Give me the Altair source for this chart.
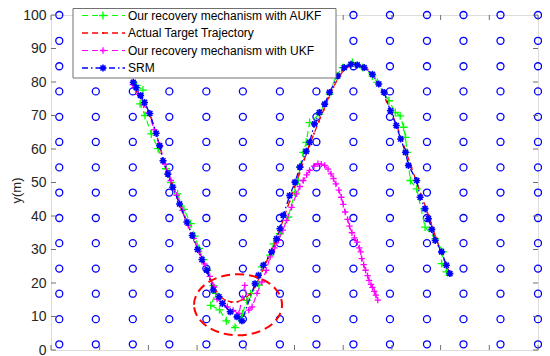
import altair as alt
import pandas as pd

# ---------------- data ----------------
TICKS = [0, 10, 20, 30, 40, 50, 60, 70, 80, 90, 100]
GRID = [1.7, 9.2, 16.8, 24.3, 31.9, 39.4, 47.0, 54.5, 62.1, 69.6, 77.2, 84.7, 92.3, 100.0]

SERIES = ["Our recovery mechanism with AUKF", "Actual Target Trajectory",
          "Our recovery mechanism with UKF", "SRM"]

AUKF_X = [17.6, 18.9, 18.3, 19.3, 20.6, 22.0, 23.6, 24.6, 26.0, 27.3, 28.7, 29.5, 30.4, 31.3, 32.1,
          33.3, 33.8, 32.8, 34.6, 36.0, 37.8, 39.3, 40.2, 41.0, 42.7, 43.3, 45.0, 45.7, 47.0, 48.7,
          50.1, 50.8, 51.1, 51.8, 52.4, 53.1, 55.1, 57.2, 58.5, 59.9, 61.9, 64.0, 66.0, 67.0, 69.4,
          70.7, 71.7, 72.4, 72.8, 73.1, 73.8, 75.1, 76.8, 78.9, 80.5, 80.2, 81.2]
AUKF_Y = [79.0, 77.6, 73.5, 70.0, 64.5, 60.1, 54.1, 50.0, 46.6, 42.0, 37.7, 34.0, 30.3, 27.0, 23.8,
          19.2, 16.9, 13.3, 12.0, 8.7, 6.7, 10.8, 14.8, 16.8, 19.4, 24.8, 28.3, 31.7, 34.7, 39.7,
          47.1, 50.6, 54.6, 59.0, 62.0, 67.9, 70.4, 76.4, 81.8, 84.3, 85.8, 84.3, 81.8, 79.9, 74.4,
          70.9, 69.9, 66.5, 63.5, 59.0, 50.6, 48.1, 36.7, 33.2, 29.3, 25.8, 23.3]

ACT_X = [16.7, 17.6, 18.6, 19.6, 20.5, 21.4, 22.2, 23.0, 23.8, 24.8, 25.9, 27.0, 28.0, 29.1, 30.2,
         31.2, 32.2, 33.3, 34.5, 35.7, 37.0, 38.3, 39.6, 40.8, 41.9, 43.0, 44.0, 45.0, 46.0, 47.0,
         48.0, 49.0, 50.0, 51.0, 52.0, 53.0, 54.0, 55.0, 56.0, 57.0, 58.0, 59.0, 60.0, 61.0, 62.0,
         63.0, 64.0, 65.0, 66.0, 67.0, 68.0, 69.0, 70.0, 71.0, 72.0, 73.0, 74.0, 75.0, 76.0, 77.0,
         78.0, 79.0, 80.0, 81.0, 81.7]
ACT_Y = [79.5, 77.2, 75.0, 72.5, 69.4, 65.5, 61.6, 57.0, 53.5, 49.8, 45.5, 41.3, 37.5, 33.8, 30.0,
         26.5, 23.0, 19.2, 16.3, 14.9, 14.3, 14.4, 15.2, 16.6, 18.9, 22.2, 25.5, 28.8, 32.0, 36.0,
         40.2, 44.4, 48.6, 52.7, 56.8, 60.8, 64.6, 68.2, 71.7, 75.3, 78.5, 81.2, 83.3, 84.6, 85.3,
         85.3, 84.8, 83.7, 82.0, 79.8, 77.0, 74.0, 70.6, 66.9, 63.0, 58.8, 54.5, 50.4, 46.4, 42.4,
         38.0, 33.6, 29.6, 25.8, 23.5]

UKF_X = [16.8, 17.9, 19.0, 20.0, 21.2, 22.4, 23.4, 24.6, 25.8, 27.0, 28.2, 29.3, 30.4, 31.5, 32.6,
         33.5, 34.1, 35.2, 36.2, 37.4, 38.6, 39.8, 40.6, 41.3, 42.3, 43.3, 44.2, 45.0, 45.9, 46.7,
         47.6, 48.4, 49.4, 50.4, 51.1, 51.8, 52.5, 53.1, 54.0, 54.8, 55.5, 56.2, 56.9, 57.5, 58.0,
         58.5, 59.1, 59.6, 60.0, 60.4, 60.9, 61.3, 61.8, 62.3, 62.9, 63.3, 63.6, 63.8, 64.2, 64.6,
         65.0, 65.3, 65.7, 66.0, 66.4, 66.7, 67.1]
UKF_Y = [79.2, 76.3, 73.2, 70.8, 65.8, 60.8, 55.5, 50.6, 46.2, 41.7, 37.2, 33.3, 29.5, 25.7, 22.0,
         18.8, 15.2, 13.9, 12.9, 11.8, 10.9, 19.3, 11.9, 12.9, 16.9, 20.3, 23.8, 27.8, 30.5, 32.7,
         35.8, 38.7, 42.6, 46.6, 48.8, 50.6, 52.3, 53.6, 54.9, 55.6, 55.5, 55.1, 54.0, 52.6, 51.2,
         49.6, 47.7, 45.6, 43.5, 41.2, 39.0, 37.0, 35.0, 33.5, 32.2, 30.5, 29.3, 27.3, 25.5, 23.8,
         22.2, 20.8, 19.6, 18.7, 17.5, 16.4, 14.9]

SRM_X = [16.9, 17.5, 18.4, 19.2, 20.3, 21.6, 22.3, 23.0, 24.0, 25.0, 26.4, 27.9, 29.0, 30.1, 31.0,
         32.0, 33.3, 34.5, 35.2, 36.8, 38.2, 39.2, 41.9, 42.6, 43.6, 45.3, 46.3, 47.0, 47.7, 49.0,
         50.1, 51.1, 52.4, 53.1, 54.1, 55.1, 56.2, 57.2, 58.9, 60.2, 61.6, 62.9, 64.3, 66.0, 67.3,
         68.4, 69.7, 70.9, 71.8, 72.8, 73.4, 75.1, 75.8, 76.8, 77.5, 78.2, 78.9, 80.2, 81.2, 81.9]
SRM_Y = [79.9, 78.3, 76.0, 73.9, 70.6, 64.7, 61.0, 56.5, 52.5, 48.6, 43.6, 38.2, 34.2, 30.0, 27.0,
         23.8, 17.9, 15.9, 13.9, 11.4, 9.9, 8.7, 19.8, 22.3, 25.3, 29.3, 33.2, 36.2, 40.2, 46.1,
         50.1, 54.6, 59.3, 62.0, 67.5, 70.9, 73.4, 76.9, 81.8, 84.3, 85.3, 85.1, 84.3, 82.3, 79.4,
         76.9, 71.4, 67.0, 63.0, 59.0, 55.1, 50.6, 45.6, 42.2, 39.2, 36.0, 32.7, 29.3, 25.3, 22.8]

ELLIPSE_X = [38.4]
ELLIPSE_Y = [13.5]

# ---------------- styling ----------------
W, H = 487, 335
FONT = "Liberation Sans"
AX = "#707070"
TXT = "#262626"
COLORS = ["#00ff00", "#ff0000", "#ff00ff", "#0000ff"]
PLUS = "M-1,0L1,0M0,-1L0,1"
STAR = "M-1,0L1,0M0,-1L0,1M-0.72,-0.72L0.72,0.72M-0.72,0.72L0.72,-0.72"
ELLIPSE_PATH = "M-1,0A1,0.693,0,1,1,1,0A1,0.693,0,1,1,-1,0Z"

STYLES = [
    dict(dash=[6, 4], shape=PLUS, size=64, msw=1.3, lw=1.2),
    dict(dash=[6, 4], shape="circle", size=5, msw=1.0, lw=1.3),
    dict(dash=[6, 4], shape=PLUS, size=40, msw=1.3, lw=1.2),
    dict(dash=[6, 3, 1.5, 3], shape=STAR, size=49, msw=1.6, lw=1.3),
]

xs = alt.Scale(domain=[0, 100], nice=False, zero=False)
ys = alt.Scale(domain=[0, 100], nice=False, zero=False)
XA = alt.Axis(values=TICKS, ticks=False, domain=False, grid=False, labels=False, title=None)
YA = alt.Axis(values=TICKS, ticks=False, domain=False, grid=False, labelPadding=5, labelFontSize=14,
              labelFont=FONT, labelColor=TXT, title="y(m)", titleFont=FONT, titleFontSize=13,
              titleFontWeight="normal", titleColor=TXT, titleAngle=270, titleX=-35, titleY=175,
              titleAlign="center", titleBaseline="middle")


def X(f):
    return alt.X(f, scale=xs, axis=XA)


def Y(f):
    return alt.Y(f, scale=ys, axis=YA)


grid_df = pd.DataFrame([(gx, gy) for gx in GRID for gy in GRID], columns=["x", "y"])
grid = alt.Chart(grid_df).mark_point(
    shape="circle", size=49, filled=False, color="#0000ff", strokeWidth=1.3, opacity=1
).encode(x=X("x:Q"), y=Y("y:Q"))

series_data = [(AUKF_X, AUKF_Y), (ACT_X, ACT_Y), (UKF_X, UKF_Y), (SRM_X, SRM_Y)]
layers = [grid]
for (sx, sy), col, st in zip(series_data, COLORS, STYLES):
    df = pd.DataFrame({"x": sx, "y": sy, "i": list(range(len(sx)))})
    base = alt.Chart(df).encode(x=X("x:Q"), y=Y("y:Q"), order=alt.Order("i:Q"))
    layers.append(base.mark_line(color=col, strokeDash=st["dash"], strokeWidth=st["lw"]))
    if st["shape"] == "circle":
        layers.append(base.mark_point(shape="circle", size=st["size"], filled=True, color=col, opacity=1))
    else:
        layers.append(base.mark_point(shape=st["shape"], size=st["size"], filled=False, color=col,
                                      strokeWidth=st["msw"], opacity=1))

ell_df = pd.DataFrame({"x": ELLIPSE_X, "y": ELLIPSE_Y})
layers.append(alt.Chart(ell_df).mark_point(
    shape=ELLIPSE_PATH, size=88 * 88, filled=False, color="#ff0000", strokeWidth=2,
    strokeDash=[9, 5], opacity=1
).encode(x=X("x:Q"), y=Y("y:Q")))

# inward tick marks on all four sides
tdf = pd.DataFrame({"x": TICKS, "y": TICKS})
TL = 5
layers += [
    alt.Chart(tdf).mark_rule(color=AX, strokeWidth=1).encode(
        y=Y("y:Q"), x=alt.value(0), x2=alt.value(TL)),
    alt.Chart(tdf).mark_rule(color=AX, strokeWidth=1).encode(
        y=Y("y:Q"), x=alt.value(W - TL), x2=alt.value(W)),
    alt.Chart(tdf).mark_rule(color=AX, strokeWidth=1).encode(
        x=X("x:Q"), y=alt.value(H - TL), y2=alt.value(H)),
    alt.Chart(tdf).mark_rule(color=AX, strokeWidth=1).encode(
        x=X("x:Q"), y=alt.value(0), y2=alt.value(TL)),
]

# legend box (drawn manually, MATLAB style)
one = pd.DataFrame({"a": [0]})
LX0, LX1, LY0, LY1 = 22, 285, -6.5, 63
layers.append(alt.Chart(one).mark_rect(fill="white", stroke=AX, strokeWidth=1).encode(
    x=alt.value(LX0), x2=alt.value(LX1), y=alt.value(LY0), y2=alt.value(LY1)))
for k, (name, col, st) in enumerate(zip(SERIES, COLORS, STYLES)):
    ry = 0.5 + 17.5 * k
    layers.append(alt.Chart(one).mark_rule(color=col, strokeDash=st["dash"], strokeWidth=st["lw"]).encode(
        x=alt.value(31), x2=alt.value(74), y=alt.value(ry)))
    if st["shape"] == "circle":
        layers.append(alt.Chart(one).mark_point(shape="circle", size=st["size"], filled=True,
                                                color=col, opacity=1).encode(
            x=alt.value(52), y=alt.value(ry)))
    else:
        layers.append(alt.Chart(one).mark_point(shape=st["shape"], size=st["size"], filled=False,
                                                color=col, strokeWidth=st["msw"], opacity=1).encode(
            x=alt.value(52), y=alt.value(ry)))
    layers.append(alt.Chart(one).mark_text(text=name, align="left", baseline="middle", font=FONT,
                                           fontSize=12, color="#000000").encode(
        x=alt.value(77), y=alt.value(ry)))

chart = alt.layer(*layers).properties(
    width=W, height=H,
    padding={"left": 43, "top": 7, "right": 4, "bottom": 6},
    autosize=alt.AutoSizeParams(type="none"),
).configure_view(stroke=AX, strokeWidth=1).configure(background="white")

chart.save("out.html", embed_options={"renderer": "svg", "actions": False})
